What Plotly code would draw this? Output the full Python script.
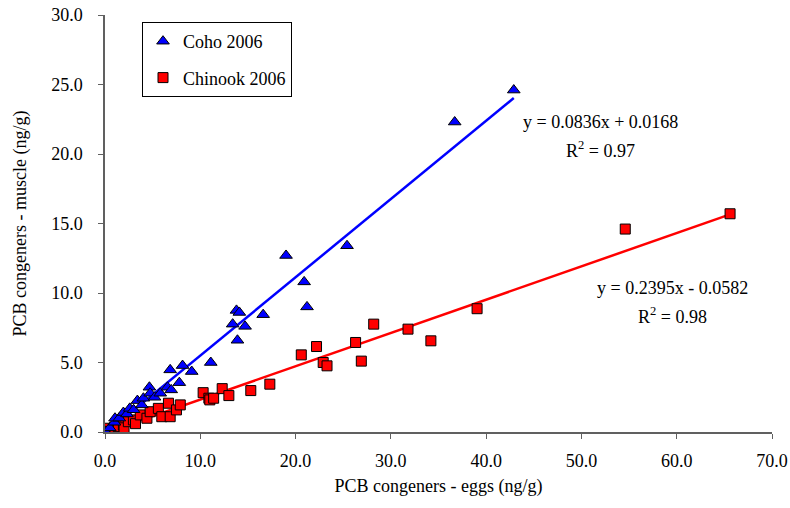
import numpy as np
import plotly.graph_objects as go

# Coho 2006 (eggs, muscle)
coho_x = [0.0, 0.5, 1.0, 1.05, 1.5, 1.93, 2.3, 2.6, 3.0, 3.4, 3.86, 4.03, 4.66, 4.74, 5.2, 5.8,
          6.56, 6.84, 6.95, 7.8, 8.14, 9.1, 11.1, 13.4, 13.8, 14.1, 13.9, 14.7, 16.6, 19.0,
          20.9, 21.2, 25.4, 36.7, 42.9]
coho_y = [0.05, 0.3, 0.7, 0.99, 1.0, 1.4, 1.3, 1.7, 1.6, 2.26, 1.95, 2.43, 3.22, 2.79, 2.5, 2.79,
          3.22, 4.47, 3.03, 3.55, 4.78, 4.35, 5.0, 7.76, 8.75, 8.6, 6.6, 7.6, 8.44, 12.7,
          10.8, 9.0, 13.4, 22.3, 24.6]

# Chinook 2006 (eggs, muscle)
chin_x = [0.0, 0.35, 0.8, 1.05, 1.58, 1.4, 1.93, 2.0, 2.45, 2.98, 3.2, 3.7, 4.4, 4.74, 5.6, 5.96,
          6.66, 6.84, 7.5, 7.9, 10.3, 10.9, 11.0, 11.4, 12.3, 13.0, 15.3, 17.3, 20.6, 22.2,
          22.9, 23.3, 26.3, 26.9, 28.2, 31.8, 34.2, 39.05, 54.6, 65.6]
chin_y = [0.1, 0.27, 0.05, 0.02, 0.19, 0.38, 0.5, 0.3, 0.74, 0.87, 0.6, 1.23, 0.99, 1.46, 1.7, 1.1,
          2.07, 1.1, 1.59, 1.95, 2.83, 2.43, 2.31, 2.43, 3.12, 2.62, 2.98, 3.44, 5.55, 6.15,
          5.0, 4.76, 6.44, 5.1, 7.76, 7.4, 6.56, 8.87, 14.6, 15.7]

# Trend lines as drawn in the chart (slope, intercept)
coho_line = (0.563, -0.13)
chin_line = (0.2395, -0.0582)

# Equation labels as printed
coho_eq = "y = 0.0836x + 0.0168"
coho_r2 = "R<sup>2</sup> = 0.97"
chin_eq = "y = 0.2395x - 0.0582"
chin_r2 = "R<sup>2</sup> = 0.98"

x_ticks = [0, 10, 20, 30, 40, 50, 60, 70]
y_ticks = [0, 5, 10, 15, 20, 25, 30]

FONT = "Liberation Serif"
FS = 18

fig = go.Figure()

cx = np.array([min(coho_x) + 0.5, max(coho_x)])
fig.add_trace(go.Scatter(x=cx, y=coho_line[0] * cx + coho_line[1], mode="lines",
                         line=dict(color="#0000ff", width=2.5), showlegend=False, hoverinfo="skip"))
kx = np.array([min(chin_x), max(chin_x)])
fig.add_trace(go.Scatter(x=kx, y=chin_line[0] * kx + chin_line[1], mode="lines",
                         line=dict(color="#ff0000", width=2.5), showlegend=False, hoverinfo="skip"))

fig.add_trace(go.Scatter(x=chin_x, y=chin_y, mode="markers", name="Chinook 2006",
                         legendgroup="b", legendrank=2,
                         marker=dict(symbol="square", size=10, color="#ff0000",
                                     line=dict(color="#000000", width=1))))
fig.add_trace(go.Scatter(x=coho_x, y=coho_y, mode="markers", name="Coho 2006",
                         legendgroup="a", legendrank=1,
                         marker=dict(symbol="triangle-up", size=11, color="#0000ff",
                                     line=dict(color="#000000", width=1))))

L, R, T, B = 105, 772, 15, 432
def px2paper(x, y):
    return (x - L) / (R - L), (B - y) / (B - T)

def ann(px, py, text):
    ax, ay = px2paper(px, py)
    fig.add_annotation(x=ax, y=ay, xref="paper", yref="paper", text=text, showarrow=False,
                       font=dict(family=FONT, size=FS, color="#000000"),
                       xanchor="center", yanchor="middle")

ann(600, 122, coho_eq)
ann(600, 149, coho_r2)
ann(672, 288, chin_eq)
ann(672, 315, chin_r2)

axis_common = dict(showgrid=False, zeroline=False, showline=True, linecolor="#606060", linewidth=1.5,
                   ticks="outside", ticklen=5, tickcolor="#606060", tickformat=".1f",
                   tickfont=dict(family=FONT, size=FS, color="#000000"), mirror=False,
                   automargin=False)

fig.update_layout(
    width=790, height=508,
    margin=dict(l=L, r=790 - R, t=T, b=508 - B, autoexpand=False),
    paper_bgcolor="white", plot_bgcolor="white",
    font=dict(family=FONT, size=FS, color="#000000"),
    xaxis=dict(range=[0, 70], tickvals=x_ticks, ticklabelstandoff=7, **axis_common,
               title=dict(text="PCB congeners - eggs (ng/g)", font=dict(family=FONT, size=FS), standoff=9)),
    yaxis=dict(range=[0, 30], tickvals=y_ticks, ticklabelstandoff=12, **axis_common,
               title=dict(text="PCB congeners - muscle (ng/g)", font=dict(family=FONT, size=FS), standoff=20)),
    legend=dict(x=(142 - L) / (R - L), y=(B - 22) / (B - T), xanchor="left", yanchor="top",
                bordercolor="#000000", borderwidth=1, bgcolor="white",
                font=dict(family=FONT, size=FS), traceorder="grouped", tracegroupgap=10,
                entrywidth=164, itemwidth=30),
    showlegend=True,
)

fig.write_html("out.html")
